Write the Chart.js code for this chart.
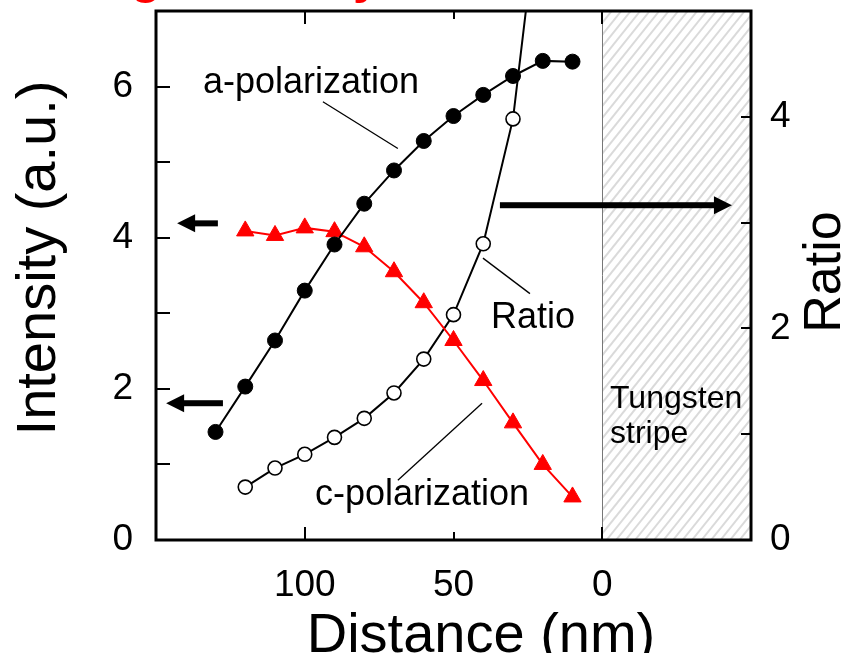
<!DOCTYPE html>
<html>
<head>
<meta charset="utf-8">
<title>Intensity and ratio vs distance</title>
<script src="https://cdn.jsdelivr.net/npm/chart.js@4/dist/chart.umd.min.js"></script>
<style>
    html, body { margin: 0; padding: 0; background: #fff; }
    #wrap { width: 843px; height: 653px; }
</style>
</head>
<body>
<div id="wrap"><canvas id="chart" width="843" height="653"></canvas></div>
<script>
// Distance from the tungsten stripe (nm) and measured values
const aDistance  = [130, 120, 110, 100, 90, 80, 70, 60, 50, 40, 30, 20, 10];
const aIntensity = [1.43, 2.03, 2.64, 3.30, 3.91, 4.45, 4.89, 5.28, 5.61, 5.89, 6.14, 6.34, 6.33];

const cDistance  = [120, 110, 100, 90, 80, 70, 60, 50, 40, 30, 20, 10];
const cIntensity = [4.09, 4.03, 4.13, 4.08, 3.88, 3.55, 3.14, 2.64, 2.11, 1.55, 1.00, 0.57];

const ratioDistance = [120, 110, 100, 90, 80, 70, 60, 50, 40, 30, 20];
const ratioValues   = [0.50, 0.68, 0.81, 0.97, 1.15, 1.39, 1.71, 2.13, 2.80, 3.98, 6.34];

// axis labels
const distanceTicks  = [100, 50, 0];
const intensityTicks = [0, 2, 4, 6];
const ratioTicks     = [0, 2, 4];

// tungsten stripe starts at 0 nm and runs past the axis end
const STRIPE_FROM = 0;

const FONT = "'Liberation Sans', Arial, Helvetica, sans-serif";

const pts = (xs, ys) => xs.map((x, i) => ({ x, y: ys[i] }));

// ── overlay: stripe hatch, frame, inward ticks, labels, arrows ──────────────
function drawArrow(ctx, x1, y1, x2, y2, shaft, headLen, headHalf) {
    const len = Math.hypot(x2 - x1, y2 - y1);
    ctx.save();
    ctx.translate(x2, y2);
    ctx.rotate(Math.atan2(y2 - y1, x2 - x1));
    ctx.fillStyle = '#000';
    ctx.fillRect(-len, -shaft / 2, len - headLen + 1, shaft);
    ctx.beginPath();
    ctx.moveTo(0, 0);
    ctx.lineTo(-headLen, -headHalf);
    ctx.lineTo(-headLen, headHalf);
    ctx.closePath();
    ctx.fill();
    ctx.restore();
}

const stripePlugin = {
    id: 'stripe',
    beforeDatasetsDraw(chart) {
        const { ctx, chartArea: a, scales: { x } } = chart;
        const x0 = x.getPixelForValue(STRIPE_FROM);
        const h = a.bottom - a.top;
        ctx.save();
        ctx.beginPath();
        ctx.rect(x0, a.top, a.right - x0, h);
        ctx.clip();
        ctx.strokeStyle = '#dadada';
        ctx.lineWidth = 2;
        const lean = h * 0.8;
        for (let s = x0 - lean; s < a.right + 10; s += 9.5) {
            ctx.beginPath();
            ctx.moveTo(s, a.bottom);
            ctx.lineTo(s + lean, a.top);
            ctx.stroke();
        }
        ctx.restore();
        ctx.save();
        ctx.strokeStyle = '#777';
        ctx.lineWidth = 1;
        ctx.beginPath();
        ctx.moveTo(Math.round(x0) + 0.5, a.top);
        ctx.lineTo(Math.round(x0) + 0.5, a.bottom);
        ctx.stroke();
        ctx.restore();
    }
};

const labels = [
    { text: 'a-polarization', x: 97.9, y: 6.04, size: 36, align: 'center' },
    { text: 'Ratio',          x: 23.3, y: 2.94, size: 36, align: 'center' },
    { text: 'c-polarization', x: 60.6, y: 0.59, size: 36, align: 'center' },
    { text: 'Tungsten',       x: -2.6, y: 1.87, size: 32, align: 'left' },
    { text: 'stripe',         x: -2.6, y: 1.40, size: 32, align: 'left' }
];

const leaders = [
    [93.9, 5.80, 68.7, 5.18],
    [40.1, 3.73, 24.3, 3.26],
    [40.4, 1.81, 68.7, 0.79]
];

// [x from, x to, y] in intensity units
const arrows = [
    [129.2, 142.9, 4.19],
    [127.5, 146.6, 1.81],
    [34.4, -43.6, 4.43]
];

const overlayPlugin = {
    id: 'overlay',
    afterDatasetsDraw(chart) {
        const { ctx, chartArea: a, scales: { x, y, y1 } } = chart;
        ctx.save();

        // leader lines
        ctx.strokeStyle = '#000';
        ctx.lineWidth = 1.3;
        leaders.forEach(([xa, ya, xb, yb]) => {
            ctx.beginPath();
            ctx.moveTo(x.getPixelForValue(xa), y.getPixelForValue(ya));
            ctx.lineTo(x.getPixelForValue(xb), y.getPixelForValue(yb));
            ctx.stroke();
        });

        // axis arrows
        arrows.forEach(([xa, xb, yv]) => {
            const py = y.getPixelForValue(yv);
            drawArrow(ctx, x.getPixelForValue(xa), py, x.getPixelForValue(xb), py, 6, 18, 9);
        });

        // text labels
        ctx.fillStyle = '#000';
        ctx.textBaseline = 'middle';
        labels.forEach(l => {
            ctx.font = `${l.size}px ${FONT}`;
            ctx.textAlign = l.align;
            ctx.fillText(l.text, x.getPixelForValue(l.x), y.getPixelForValue(l.y));
        });

        // inward tick marks
        ctx.lineWidth = 2;
        ctx.beginPath();
        for (let v = 0; v <= 7; v++) {
            const p = Math.round(y.getPixelForValue(v));
            ctx.moveTo(a.left, p); ctx.lineTo(a.left + 14, p);
        }
        for (let v = 0; v <= 5; v++) {
            const p = Math.round(y1.getPixelForValue(v));
            ctx.moveTo(a.right, p); ctx.lineTo(a.right - 10, p);
        }
        distanceTicks.forEach(v => {
            const p = Math.round(x.getPixelForValue(v));
            const len = v === 50 ? 8 : 13;
            ctx.moveTo(p, a.bottom); ctx.lineTo(p, a.bottom - len);
            ctx.moveTo(p, a.top); ctx.lineTo(p, a.top + len);
        });
        ctx.stroke();

        // plot frame
        ctx.lineWidth = 3;
        ctx.strokeRect(a.left, a.top, a.right - a.left, a.bottom - a.top);

        // axis titles
        ctx.textBaseline = 'alphabetic';
        ctx.textAlign = 'center';
        ctx.font = `56px ${FONT}`;
        ctx.fillText('Distance (nm)', 481, 652);

        ctx.save();
        ctx.translate(55, 258);
        ctx.rotate(-Math.PI / 2);
        ctx.fillText('Intensity (a.u.)', 0, 0);
        ctx.restore();

        ctx.save();
        ctx.font = `52px ${FONT}`;
        ctx.translate(840, 272);
        ctx.rotate(-Math.PI / 2);
        ctx.fillText('Ratio', 0, 0);
        ctx.restore();

        // figure heading, clipped at the top edge
        ctx.font = `bold 50px ${FONT}`;
        ctx.fillStyle = '#ff0000';
        ctx.textAlign = 'left';
        const head = 'Strong intensity';
        const gx = 146 - ctx.measureText('Stron').width - ctx.measureText('g').width / 2;
        ctx.fillText(head, gx, -7);

        ctx.restore();
    }
};

const tickFont = { family: FONT, size: 37 };

// fixed axis boxes so the plot area sits at a known place
const fixBox = (w, h) => s => {
    if (w !== null) s.width = w;
    if (h !== null) s.height = h;
    s.paddingTop = 0;
    s.paddingBottom = 0;
    s.paddingLeft = 0;
    s.paddingRight = 0;
};

new Chart(document.getElementById('chart'), {
    type: 'line',
    data: {
        datasets: [
            {
                label: 'a-polarization',
                data: pts(aDistance, aIntensity),
                yAxisID: 'y',
                borderColor: '#000',
                borderWidth: 2,
                pointStyle: 'circle',
                pointRadius: 7.5,
                pointBackgroundColor: '#000',
                pointBorderColor: '#000',
                pointBorderWidth: 1,
                tension: 0
            },
            {
                label: 'c-polarization',
                data: pts(cDistance, cIntensity),
                yAxisID: 'y',
                borderColor: '#ff0000',
                borderWidth: 2,
                pointStyle: 'triangle',
                pointRadius: 10,
                pointBackgroundColor: '#ff0000',
                pointBorderColor: '#ff0000',
                pointBorderWidth: 1,
                tension: 0
            },
            {
                label: 'Ratio',
                data: pts(ratioDistance, ratioValues),
                yAxisID: 'y1',
                borderColor: '#000',
                borderWidth: 2,
                pointStyle: 'circle',
                pointRadius: 7,
                pointBackgroundColor: '#fff',
                pointBorderColor: '#000',
                pointBorderWidth: 1.6,
                tension: 0
            }
        ]
    },
    options: {
        responsive: false,
        animation: false,
        devicePixelRatio: 1,
        layout: { padding: { top: 9, left: 0, right: 0, bottom: 0 } },
        plugins: { legend: { display: false }, tooltip: { enabled: false }, title: { display: false } },
        scales: {
            x: {
                type: 'linear',
                position: 'bottom',
                reverse: true,
                min: -50,
                max: 150,
                grid: { display: false },
                border: { display: false },
                ticks: {
                    stepSize: 50,
                    autoSkip: false,
                    maxRotation: 0,
                    padding: 16,
                    color: '#000',
                    font: tickFont,
                    callback: v => distanceTicks.includes(v) ? String(v) : ''
                },
                afterFit: fixBox(null, 113)
            },
            y: {
                position: 'left',
                min: 0,
                max: 7,
                grid: { display: false },
                border: { display: false },
                ticks: {
                    stepSize: 1,
                    autoSkip: false,
                    padding: 15,
                    color: '#000',
                    font: tickFont,
                    callback: v => intensityTicks.includes(v) ? String(v) : ''
                },
                afterFit: fixBox(156, null)
            },
            y1: {
                position: 'right',
                min: 0,
                max: 5,
                grid: { display: false },
                border: { display: false },
                ticks: {
                    stepSize: 1,
                    autoSkip: false,
                    padding: 11,
                    color: '#000',
                    font: tickFont,
                    callback: v => ratioTicks.includes(v) ? String(v) : ''
                },
                afterFit: fixBox(92, null)
            }
        }
    },
    plugins: [stripePlugin, overlayPlugin]
});
</script>
</body>
</html>
